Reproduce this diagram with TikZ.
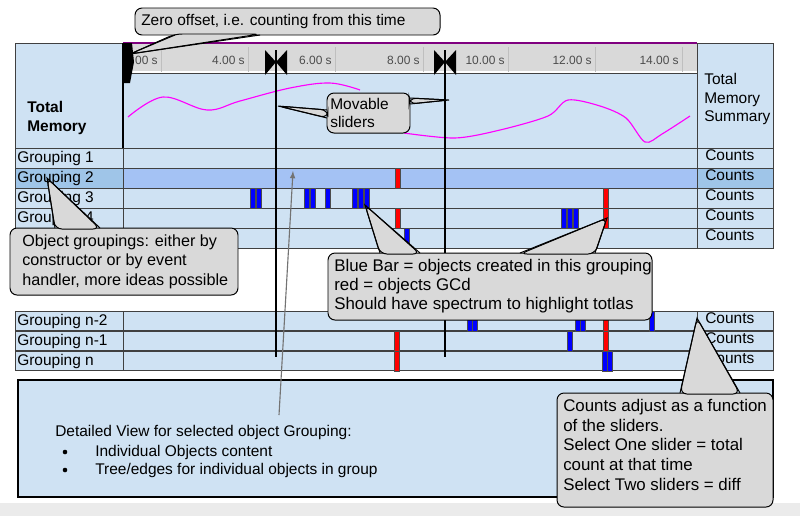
\documentclass[tikz,border=0pt]{standalone}
\usepackage{fontspec}
\setmainfont{Liberation Sans}
\usetikzlibrary{positioning}
\definecolor{cell}{HTML}{CFE2F3}
\definecolor{hilite}{HTML}{A4C2F4}
\definecolor{hicell}{HTML}{9FC5E8}
\definecolor{ruler}{HTML}{D9D9D9}
\definecolor{note}{HTML}{D9D9D9}
\definecolor{curve}{HTML}{FF00FF}
\tikzset{
  grid/.style={draw=black!75,line width=.6pt},
  lbl/.style={anchor=west,inner sep=0pt,font=\fontsize{11}{13}\selectfont},
  tick/.style={anchor=east,inner sep=0pt,text=black!70,font=\fontsize{8.5}{10}\selectfont},
  note/.style={fill=note,draw=black,line width=.7pt,rounded corners=5pt},
  ntext/.style={align=left,anchor=north west,inner sep=0pt,font=\fontsize{11.5}{14}\selectfont},
  bluebar/.style={fill=blue,draw=black!70,line width=.3pt},
  redbar/.style={fill=red,draw=black!70,line width=.3pt},
  slider/.style={line width=.9pt}
}
\begin{document}
\begin{tikzpicture}[x=0.025cm,y=-0.025cm]
  \useasboundingbox (0,0) rectangle (800,516);
  \fill[black!8] (0,503) rectangle (800,516);
  % top table
  \filldraw[grid,fill=cell] (15,43) rectangle (123,148);
  \filldraw[grid,fill=cell] (123,73) rectangle (697,148);
  \fill[ruler] (123,43) rectangle (697,73);
  \draw[white,line width=1.5pt] (123,72) -- (697,72);
  \draw[violet,line width=1.5pt] (123,43) -- (697,43);
  \draw[violet!60] (123,148) -- (697,148);
  \filldraw[grid,fill=cell] (697,43) rectangle (773,148);
  \foreach \t/\s in {161/0.00 s,248/4.00 s,335/6.00 s,423/8.00 s,508/10.00 s,595/12.00 s,682/14.00 s}
    \draw[black!25] (\t,47) -- (\t,72);
  \begin{scope}
    \clip (134,43) rectangle (697,73);
    \node[tick] (t0) at (158,60) {0.00 s};
    \node[tick] (t4) at (245,60) {4.00 s};
    \node[tick] (t6) at (332,60) {6.00 s};
    \node[tick] (t8) at (420,60) {8.00 s};
    \node[tick] (t10) at (505,60) {10.00 s};
    \node[tick] (t12) at (592,60) {12.00 s};
    \node[tick] (t14) at (679,60) {14.00 s};
  \end{scope}
  \node[lbl,font=\fontsize{11}{14}\selectfont\bfseries,align=left] (total) at (27,118) {Total\\Memory};
  \node[lbl,align=left,font=\fontsize{11}{13.5}\selectfont] (summary) at (704,99) {Total\\Memory\\Summary};
  \draw[curve,line width=.8pt] plot[smooth,tension=.6] coordinates
    {(128,117) (163,97) (207,110) (240,101) (290,88) (330,83) (360,90)};
  \draw[curve,line width=.8pt] plot[smooth,tension=.5] coordinates
    {(404,133) (455,138) (500,130) (548,116) (568,100) (600,106) (626,118) (645,142) (662,134) (690,116)};
  % grouping rows
  \foreach \i/\y/\t in {1/148/Grouping 1,2/168/Grouping 2,3/188/Grouping 3,4/208/Grouping 4,5/228/}{
    \filldraw[grid,fill=cell] (15,\y) rectangle (123,\y+20);
    \filldraw[grid,fill=cell] (123,\y) rectangle (697,\y+20);
    \filldraw[grid,fill=cell] (697,\y) rectangle (773,\y+20);
    \node[lbl] (g\i) at (17,\y+10) {\t};
    \node[lbl] (c\i) at (705,\y+7) {Counts};
  }
  \filldraw[grid,fill=hicell] (15,168) rectangle (123,188);
  \filldraw[grid,fill=hilite] (123,168) rectangle (697,188);
  \filldraw[grid,fill=hicell] (697,168) rectangle (773,188);
  \node[lbl] (g2) at (17,178) {Grouping 2};
  \node[lbl] (c2) at (705,175) {Counts};
  \foreach \i/\y/\t in {a/311/Grouping n-2,b/331/Grouping n-1,c/351/Grouping n}{
    \filldraw[grid,fill=cell] (15,\y) rectangle (123,\y+19);
    \filldraw[grid,fill=cell] (123,\y) rectangle (697,\y+19);
    \filldraw[grid,fill=cell] (697,\y) rectangle (773,\y+19);
    \node[lbl] (g\i) at (17,\y+10) {\t};
    \node[lbl] (c\i) at (705,\y+7) {Counts};
  }
  % bars
  \foreach \x/\y in {250/188,256/188,304/188,310/188,325/188,352/188,358/188,364/188,
                     561/208,567/208,573/208,404/228,
                     467/311,472/311,575/311,580/311,649/311,567/331,602/351,607/351}
    \filldraw[bluebar] (\x,\y) rectangle ++(5,20);
  \foreach \x/\y in {395/168,395/208,603/188,603/208,603/311,603/331,394/331,394/351}
    \filldraw[redbar] (\x,\y) rectangle ++(5,20);
  % detail view
  \filldraw[draw=black,line width=.8pt,fill=cell] (18,380) rectangle (773,497);
  \node[ntext,font=\fontsize{11}{13}\selectfont] (detail) at (55,425) {Detailed View for selected object Grouping:};
  \node[ntext,anchor=west,font=\fontsize{11}{13}\selectfont] (item1) at (95,452) {Individual Objects content};
  \node[ntext,anchor=west,font=\fontsize{11}{13}\selectfont] (item2) at (95,470) {Tree/edges for individual objects in group};
  \fill (item1.west) ++(-30,0) circle (2.3);
  \fill (item2.west) ++(-30,0) circle (2.3);
  % sliders
  \draw[slider] (276,50) -- (276,357);
  \draw[slider] (445,50) -- (445,357);
  \foreach \s in {276,445}{
    \fill (\s-11,50) -- (\s,62) -- (\s-11,75) -- cycle;
    \fill (\s+11,50) -- (\s,62) -- (\s+11,75) -- cycle;
  }
  \draw[slider] (123,43) -- (123,148);
  \fill (123,43) -- (132,43) -- (134,62) -- (130,83) -- (124,83) -- cycle;
  \coordinate (pick) at (293,171);
  \draw[black!55,line width=.8pt,-latex] (279,415) -- (pick);
  % callouts
  \filldraw[note] (135,8) rectangle (440,35);
  \node[ntext,anchor=west,font=\fontsize{11}{13}\selectfont] (zero) at (141,21) {Zero offset, i.e. counting from this time};
  \coordinate (zerotip) at (130,54);
  \fill[note] (175,34) -- (zerotip) -- (260,34) -- cycle;
  \draw[line width=.7pt] (175,35) -- (zerotip) -- (260,35);

  \filldraw[note] (327,93) rectangle (410,133);
  \node[ntext,anchor=north west,font=\fontsize{11}{13}\selectfont] (mov) at (330,98) {Movable\\sliders};
  \coordinate (lefttip) at (278,106);
  \coordinate (righttip) at (449,100);
  \fill[note] (328,110) -- (lefttip) -- (328,118) -- cycle;
  \draw[line width=.7pt] (327,110) -- (lefttip) -- (327,118);
  \fill[note] (409,98) -- (righttip) -- (409,104) -- cycle;
  \draw[line width=.7pt] (410,98) -- (righttip) -- (410,104);

  \filldraw[note] (10,228) rectangle (238,295);
  \node[ntext] (groupings) at (22,234) {Object groupings: either by\\constructor or by event\\handler, more ideas possible};
  \coordinate (grouptip) at (47,178);
  \fill[note] (55,229) -- (grouptip) -- (100,229) -- cycle;
  \draw[line width=.7pt] (55,228) -- (grouptip) -- (100,228);

  \filldraw[note] (328,253) rectangle (652,320);
  \node[ntext,font=\fontsize{12}{13.5}\selectfont] (bluebars) at (334,259) {Blue Bar = objects created in this grouping\\red = objects GCd\\Should have spectrum to highlight totlas};
  \coordinate (bluetip) at (365,205);
  \coordinate (redtip) at (607,218);
  \fill[note] (380,254) -- (bluetip) -- (420,254) -- cycle;
  \draw[line width=.7pt] (380,253) -- (bluetip) -- (420,253);
  \fill[note] (520,254) -- (redtip) -- (595,254) -- cycle;
  \draw[line width=.7pt] (520,253) -- (redtip) -- (595,253);

  \filldraw[note] (557,393) rectangle (773,507);
  \node[ntext,font=\fontsize{12}{14}\selectfont] (adjust) at (563,399) {Counts adjust as a function\\of the sliders.\\Select One slider = total\\count at that time\\Select Two sliders = diff};
  \coordinate (counttip) at (697,318);
  \fill[note] (680,394) -- (counttip) -- (740,394) -- cycle;
  \draw[line width=.7pt] (680,393) -- (counttip) -- (740,393);
\end{tikzpicture}
\end{document}
